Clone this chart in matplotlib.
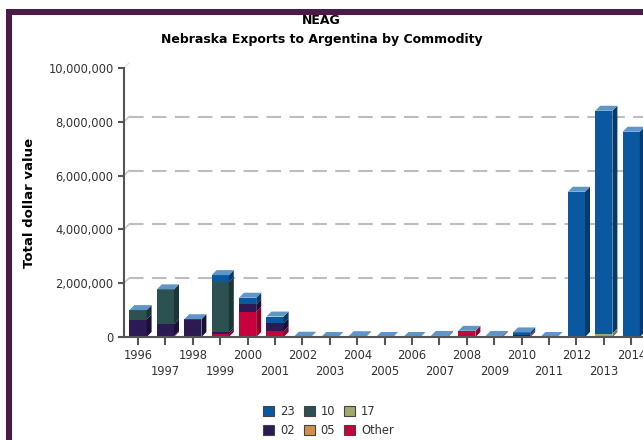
import numpy as np
import matplotlib
matplotlib.use('Agg')
import matplotlib.pyplot as plt
from matplotlib.patches import Polygon, Rectangle, Patch

years = list(range(1996, 2015))

# stacked commodity values in dollars, bottom to top: Other, 05, 02, 17, 10, 23
v_other = [0, 40000, 0, 100000, 940000, 220000, 0, 0, 0, 0, 0, 40000, 220000, 40000, 50000, 0, 0, 0, 0]
v_05 = [0] * 19
v_02 = [650000, 430000, 660000, 80000, 270000, 290000, 0, 0, 0, 0, 0, 0, 0, 0, 20000, 0, 0, 30000, 0]
v_17 = [0, 0, 0, 0, 0, 0, 0, 0, 0, 0, 0, 0, 0, 0, 0, 0, 0, 100000, 0]
v_10 = [350000, 1300000, 0, 1850000, 0, 0, 0, 0, 0, 0, 0, 0, 0, 0, 0, 0, 0, 0, 0]
v_23 = [0, 0, 0, 270000, 250000, 250000, 10000, 0, 30000, 0, 0, 0, 10000, 0, 100000, 0, 5400000, 8280000, 7630000]

series = [('Other', v_other), ('05', v_05), ('02', v_02), ('17', v_17), ('10', v_10), ('23', v_23)]

# front, side, top face colours per series
colors = {
    '23': ('#0a58a0', '#053a6c', '#5e96c8'),
    '10': ('#2d5050', '#1c3535', '#5a7a7a'),
    '17': ('#a3a86b', '#7b7f4c', '#c4c890'),
    '02': ('#2c1a55', '#1b0f38', '#5a4a80'),
    '05': ('#d0904c', '#a06a34', '#e4b47c'),
    'Other': ('#c8003c', '#8c002a', '#e05478'),
}

W, H = 643, 440
fig = plt.figure(figsize=(W / 100, H / 100), dpi=100)

# axes in pixel terms: x axis line at x=124, zero at y=337, 10M at y=68
px_year = 27.4
x0 = 124
y0 = 337
ax_h = 269
ax_w = px_year * 20
ax = fig.add_axes([x0 / W, (H - y0) / H, ax_w / W, ax_h / H])
xmin = 1996 - (138 - x0) / px_year
ax.set_xlim(xmin, xmin + 20)
ax.set_ylim(0, 10000000)

hw = 8.6 / px_year
dx = 5 / px_year
dy = 5 * 10000000 / ax_h

# back wall gridlines
for g in [2000000, 4000000, 6000000, 8000000]:
    ax.plot([xmin, xmin + dx], [g, g + dy], color='#c8c8c8', lw=1.2, zorder=1, clip_on=False)
    ax.plot([xmin + dx, xmin + 20], [g + dy, g + dy], color='#bdbdbd', lw=1.5,
            dashes=(7, 4), zorder=1)
ax.plot([xmin, xmin + dx], [10000000, 10000000 + dy], color='#e0e0e0', lw=1, zorder=1, clip_on=False)

for i, yr in enumerate(years):
    base = 0
    for name, vals in series:
        v = vals[i]
        if v <= 0:
            continue
        front, side, top = colors[name]
        ax.add_patch(Rectangle((yr - hw, base), 2 * hw, v, facecolor=front,
                               edgecolor='none', zorder=3))
        ax.add_patch(Polygon([(yr + hw, base), (yr + hw, base + v),
                              (yr + hw + dx, base + v + dy), (yr + hw + dx, base + dy)],
                             closed=True, facecolor=side, edgecolor='none', zorder=3))
        base += v
    # cap belongs to the top series (23)
    ax.add_patch(Polygon([(yr - hw, base), (yr + hw, base),
                          (yr + hw + dx, base + dy), (yr - hw + dx, base + dy)],
                         closed=True, facecolor=colors['23'][2], edgecolor='none', zorder=4))

for s in ['top', 'right']:
    ax.spines[s].set_visible(False)
for s in ['left', 'bottom']:
    ax.spines[s].set_color('#555555')
    ax.spines[s].set_linewidth(1.5)
    ax.spines[s].set_zorder(5)

ax.set_yticks(range(0, 10000001, 2000000))
ax.set_yticklabels(['{:,}'.format(v) for v in range(0, 10000001, 2000000)])

# even years on the first row, odd years on a second row below
even = [y for y in years if y % 2 == 0]
odd = [y for y in years if y % 2 == 1]
ax.set_xticks(even)
ax.set_xticklabels([str(y) for y in even])
ax.set_xticks(odd, minor=True)
ax.set_xticklabels([str(y) for y in odd], minor=True)

ax.tick_params(axis='both', which='both', colors='#555555', labelcolor='#333333',
               labelsize=8.3, width=1.5, length=5.8)
ax.tick_params(axis='x', which='major', pad=2.5)
ax.tick_params(axis='x', which='minor', pad=14)
ax.tick_params(axis='y', length=4.5, pad=3)
ax.set_ylabel('Total dollar value', fontsize=9.5, fontweight='bold', labelpad=9)

fig.text(0.5, 1 - 20 / H, 'NEAG', ha='center', va='center', fontsize=9, fontweight='bold')
fig.text(0.5, 1 - 40 / H, 'Nebraska Exports to Argentina by Commodity', ha='center',
         va='center', fontsize=9, fontweight='bold')

order = ['23', '02', '10', '05', '17', 'Other']
handles = [Patch(facecolor=colors[n][0], edgecolor='#444444', linewidth=0.8) for n in order]
fig.legend(handles, order, loc='upper left', bbox_to_anchor=(255 / W, 1 - 397 / H),
           ncol=3, frameon=False, fontsize=8.3, handlelength=0.95, handleheight=0.95,
           handletextpad=0.5, columnspacing=0.8, labelspacing=0.5, borderpad=0.2,
           labelcolor='#333333')

# purple frame on the left and top
fig.patches.append(Rectangle((6 / W, 0), 6 / W, 1 - 9 / H, transform=fig.transFigure,
                             facecolor='#4b1a47', edgecolor='none'))
fig.patches.append(Rectangle((6 / W, 1 - 15 / H), 1, 6 / H, transform=fig.transFigure,
                             facecolor='#4b1a47', edgecolor='none'))

fig.savefig('out.png', dpi=100)
